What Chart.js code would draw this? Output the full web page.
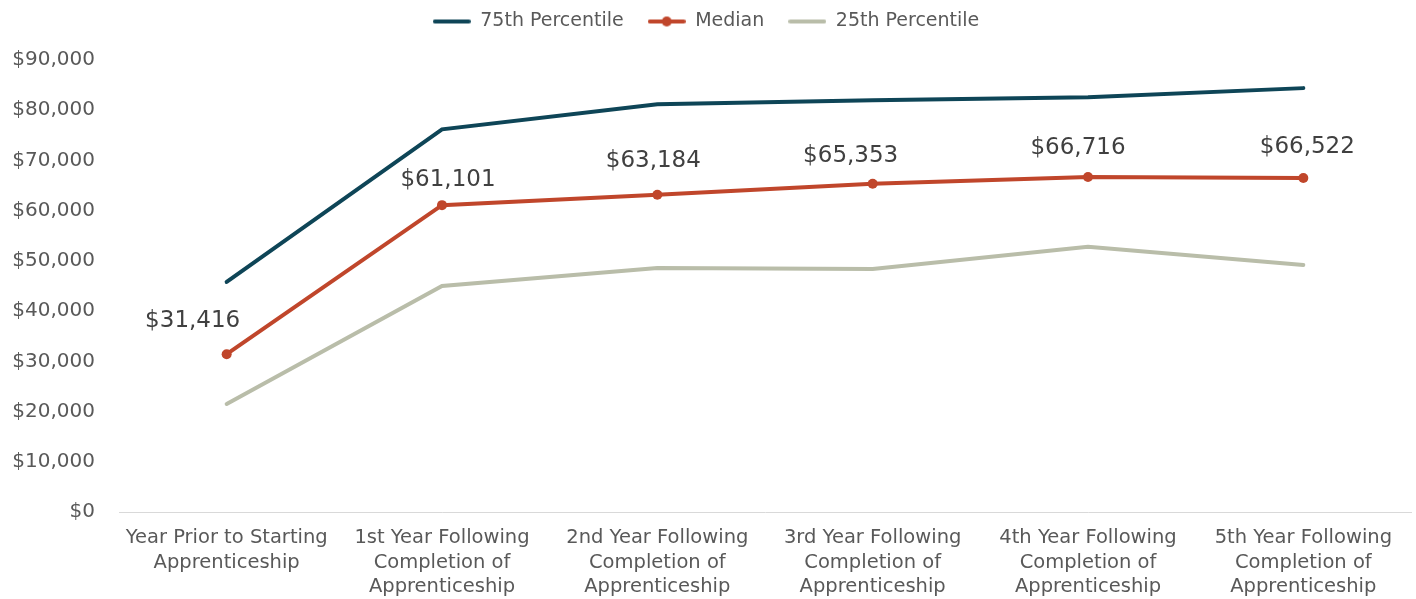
<!DOCTYPE html>
<html>
<head>
<meta charset="utf-8">
<script src="https://cdn.jsdelivr.net/npm/chart.js@4.4.1/dist/chart.umd.min.js"></script>
<style>
  html, body { margin: 0; padding: 0; background: #fff; }
  #wrap { width: 1416px; height: 599px; position: relative; }
</style>
</head>
<body>
<div id="wrap"><canvas id="chart"></canvas></div>
<script>
// categories
var categories = [
	['Year Prior to Starting', 'Apprenticeship'],
	['1st Year Following', 'Completion of', 'Apprenticeship'],
	['2nd Year Following', 'Completion of', 'Apprenticeship'],
	['3rd Year Following', 'Completion of', 'Apprenticeship'],
	['4th Year Following', 'Completion of', 'Apprenticeship'],
	['5th Year Following', 'Completion of', 'Apprenticeship']
];

// series values
var p75 = [45800, 76200, 81200, 82000, 82600, 84400];
var median = [31416, 61101, 63184, 65353, 66716, 66522];
var p25 = [21500, 45000, 48600, 48400, 52800, 49200];

// y ticks
var yMax = 90000;
var yStep = 10000;

var textColor = '#595959';
var fontFamily = '"DejaVu Sans", sans-serif';

// small nudges for the median labels, as placed in the original
var labelShiftX = [-34, 6, -4, -22, -10, 4];
var labelShiftY = [-33, -25, -34, -28, -29, -31];

// legend swatch: line, optional dot in the middle
function swatch(color, dot) {
	var c = document.createElement('canvas');
	c.width = 38; c.height = 12;
	var ctx = c.getContext('2d');
	ctx.strokeStyle = color;
	ctx.lineWidth = 4;
	ctx.lineCap = 'round';
	ctx.beginPath();
	ctx.moveTo(2, 6);
	ctx.lineTo(36, 6);
	ctx.stroke();
	if (dot) {
		ctx.fillStyle = color;
		ctx.beginPath();
		ctx.arc(19, 6, 5, 0, Math.PI * 2);
		ctx.fill();
	}
	return c;
}

// labels above the median points
var medianLabels = {
	id: 'medianLabels',
	afterDatasetsDraw: function (chart) {
		var ctx = chart.ctx;
		var meta = chart.getDatasetMeta(1);
		ctx.save();
		ctx.font = '23px ' + fontFamily;
		ctx.fillStyle = '#404040';
		ctx.textAlign = 'center';
		ctx.textBaseline = 'middle';
		meta.data.forEach(function (pt, i) {
			ctx.fillText('$' + median[i].toLocaleString('en-US'), pt.x + labelShiftX[i], pt.y + labelShiftY[i]);
		});
		ctx.restore();
	}
};

// make room below the legend
var legendGap = {
	id: 'legendGap',
	beforeInit: function (chart) {
		var fit = chart.legend.fit;
		chart.legend.fit = function () {
			fit.bind(chart.legend)();
			this.height = 72;
		};
	}
};

var ds = [
	{ label: '75th Percentile', data: p75, color: '#0e4557', dot: false },
	{ label: 'Median', data: median, color: '#c0462b', dot: true },
	{ label: '25th Percentile', data: p25, color: '#b9bda9', dot: false }
].map(function (d) {
	return {
		label: d.label,
		data: d.data,
		borderColor: d.color,
		backgroundColor: d.color,
		borderWidth: 4,
		borderCapStyle: 'round',
		pointRadius: d.dot ? 5 : 0,
		pointHoverRadius: d.dot ? 5 : 0,
		pointBackgroundColor: d.color,
		pointBorderWidth: 0,
		tension: 0
	};
});

new Chart(document.getElementById('chart'), {
	type: 'line',
	data: { labels: categories, datasets: ds },
	options: {
		responsive: true,
		maintainAspectRatio: false,
		animation: false,
		layout: { padding: { left: 0, right: 4, top: -12, bottom: 0 } },
		plugins: {
			legend: {
				position: 'top',
				labels: {
					usePointStyle: true,
					pointStyleWidth: 38,
					color: textColor,
					font: { family: fontFamily, size: 19 },
					padding: 24,
					generateLabels: function (chart) {
						return chart.data.datasets.map(function (d, i) {
							return {
								text: d.label,
								pointStyle: swatch(d.borderColor, i === 1),
								fillStyle: d.borderColor,
								strokeStyle: d.borderColor,
								lineWidth: 0,
								fontColor: textColor,
								datasetIndex: i
							};
						});
					}
				}
			},
			tooltip: { enabled: false }
		},
		scales: {
			x: {
				offset: true,
				grid: { display: false, drawTicks: false, offset: true },
				border: { display: true, color: '#d9d9d9', width: 1 },
				ticks: {
					color: textColor,
					font: { family: fontFamily, size: 19.5, lineHeight: 1.25 },
					maxRotation: 0,
					autoSkip: false,
					padding: 14
				},
				afterFit: function (scale) { scale.height = 87; }
			},
			y: {
				min: 0,
				max: yMax,
				grid: { display: false, drawTicks: false },
				border: { display: false },
				ticks: {
					stepSize: yStep,
					color: textColor,
					font: { family: fontFamily, size: 20 },
					padding: 24,
					callback: function (v) { return '$' + v.toLocaleString('en-US'); }
				},
				afterFit: function (scale) { scale.width = 119; }
			}
		}
	},
	plugins: [medianLabels, legendGap]
});
</script>
</body>
</html>
